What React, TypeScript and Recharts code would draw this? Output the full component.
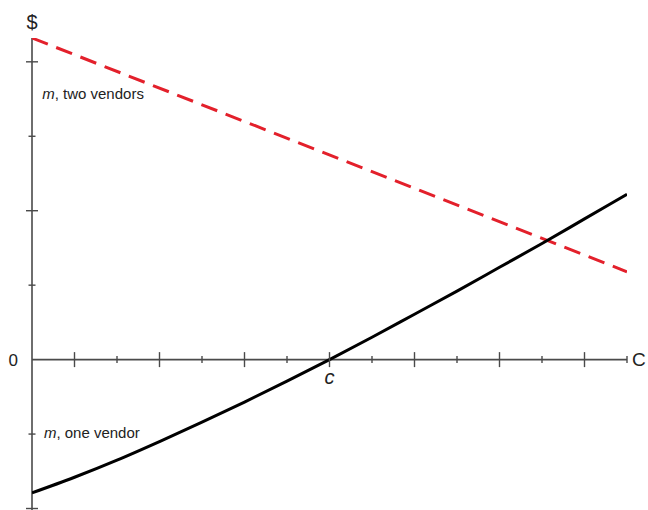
import { Line, LineChart, ReferenceDot, ReferenceLine, XAxis, YAxis } from "recharts";

// x in tick steps along the C axis, y in tick steps along the $ axis
const xTicks = [1, 2, 3, 4, 5, 6, 7, 8, 9, 10, 11, 12, 13, 14];
const yTicks = [-2, -1, 1, 2, 3, 4];
const oneVendorX = [0, 1, 2, 3, 4, 5, 6, 7, 8, 9, 10, 11, 12, 13, 14];
const oneVendorY = [-1.79, -1.58, -1.35, -1.1, -0.84, -0.57, -0.29, 0, 0.3, 0.61, 0.92, 1.24, 1.56, 1.89, 2.22];
const twoVendorsX = [0, 14];
const twoVendorsY = [4.32, 1.18];

const oneVendor = oneVendorX.map((x, i) => ({ x, y: oneVendorY[i] }));
const twoVendors = twoVendorsX.map((x, i) => ({ x, y: twoVendorsY[i] }));

const AXIS = "#4a4a4a";
const TEXT = "#222";
const FONT = "'Liberation Sans', Arial, sans-serif";

function xTick(major: boolean) {
  const h = major ? 7.5 : 3.5;
  return (p: any) => (
    <line x1={p.cx} x2={p.cx} y1={p.cy - h} y2={p.cy + h} stroke={AXIS} strokeWidth={1.4} />
  );
}

function yTick(major: boolean) {
  const w = major ? 6 : 3.5;
  return (p: any) => (
    <line x1={p.cx - w} x2={p.cx + w} y1={p.cy} y2={p.cy} stroke={AXIS} strokeWidth={1.4} />
  );
}

function seriesLabel(name: string) {
  return (p: any) => {
    const vb = p.viewBox || {};
    return (
      <text x={vb.x} y={vb.y} dominantBaseline="middle" fontSize={15} fill={TEXT} fontFamily={FONT}>
        <tspan fontStyle="italic">m</tspan>
        {", " + name}
      </text>
    );
  };
}

export default function App() {
  return (
    <div style={{ position: "absolute", left: 0, top: 0, background: "#fff" }}>
      <LineChart width={648} height={510} margin={{ top: 38, right: 21, left: 32, bottom: 0 }}>
        <XAxis dataKey="x" type="number" domain={[0, 14]} hide allowDataOverflow />
        <YAxis type="number" domain={[-2.02, 4.32]} hide allowDataOverflow />

        <ReferenceLine
          x={0}
          stroke={AXIS}
          strokeWidth={1.6}
          label={{ value: "$", position: "top", offset: 9, fontSize: 20, fill: TEXT, fontFamily: FONT }}
        />
        <ReferenceLine
          y={0}
          stroke={AXIS}
          strokeWidth={1.6}
          label={{ value: "C", position: "right", offset: 5, fontSize: 19, fill: TEXT, fontFamily: FONT }}
        />
        {xTicks.map((t) => (
          <ReferenceDot key={"x" + t} x={t} y={0} r={0} shape={xTick(t % 2 === 1)} />
        ))}
        {yTicks.map((t) => (
          <ReferenceDot key={"y" + t} x={0} y={t} r={0} shape={yTick(t % 2 === 0)} />
        ))}
        <ReferenceDot
          x={0}
          y={0}
          r={0}
          label={{ value: "0", position: "left", offset: 14, fontSize: 17, fill: TEXT, fontFamily: FONT }}
        />
        <ReferenceDot
          x={7}
          y={0}
          r={0}
          label={{ value: "c", position: "bottom", offset: 10, fontSize: 20, fill: TEXT, fontFamily: FONT, fontStyle: "italic" }}
        />
        <ReferenceDot x={0.24} y={3.55} r={0} label={seriesLabel("two vendors")} />
        <ReferenceDot x={0.28} y={-1.0} r={0} label={seriesLabel("one vendor")} />

        <Line
          data={twoVendors}
          dataKey="y"
          stroke="#e3202b"
          strokeWidth={3}
          strokeDasharray="17 9"
          dot={false}
          isAnimationActive={false}
        />
        <Line
          data={oneVendor}
          dataKey="y"
          type="monotone"
          stroke="#000"
          strokeWidth={3}
          dot={false}
          isAnimationActive={false}
        />
      </LineChart>
    </div>
  );
}
